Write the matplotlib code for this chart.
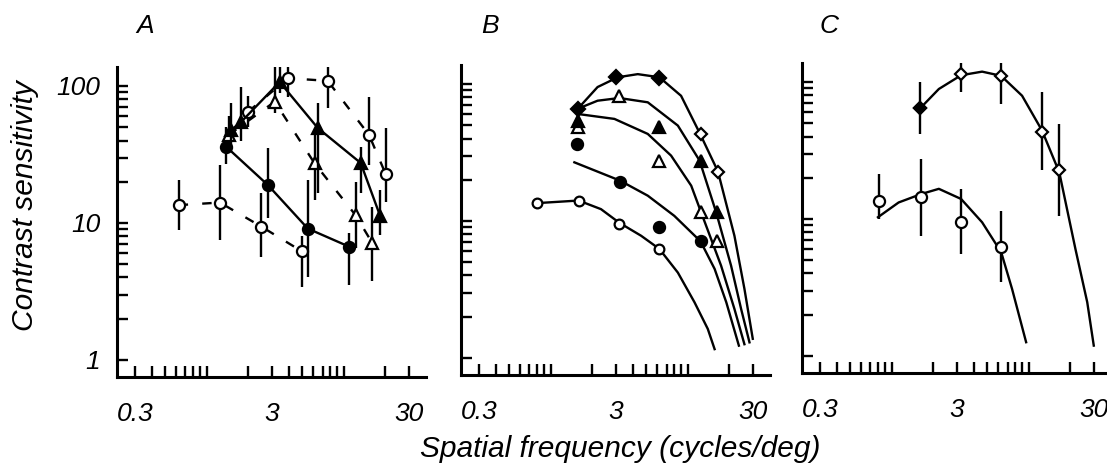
# Curvas de sensibilidad al contraste (tres paneles A, B, C)
import matplotlib
matplotlib.use("Agg")
import matplotlib.pyplot as plt
from matplotlib.ticker import FixedLocator, NullFormatter

# ---- Datos ----
# Panel A: puntos con barras de error (valor, extremo superior, extremo inferior)
a_oc_f = [0.625, 1.25, 2.51, 4.96]          # círculos abiertos, línea discontinua
a_oc_s = [13.5, 14.1, 9.4, 6.2]
a_oc_hi = [20.6, 26.5, 16.6, 8.0]
a_oc_lo = [8.9, 7.5, 5.6, 3.4]

a_fc_f = [1.39, 2.8, 5.47, 11.0]            # círculos llenos, línea continua
a_fc_s = [36, 18.9, 9.1, 6.7]
a_fc_hi = [50, 35.3, 20.6, 8.5]
a_fc_lo = [27, 10.9, 4.0, 3.5]

a_ft_f = [1.51, 1.79, 3.41, 6.46, 13.3, 18.4]   # triángulos llenos, línea continua
a_ft_s = [47.7, 54.8, 107, 49.4, 27.4, 11.3]
a_ft_hi = [75, 98, 150, 75, 36, 17.4]
a_ft_lo = [36, 40, 89, 16.6, 16.6, 8.2]

a_ot_f = [1.45, 3.14, 6.12, 12.2, 16.2]     # triángulos abiertos, discontinua
a_ot_s = [44, 76.8, 27.3, 11.4, 7.1]
a_ot_hi = [60, 147, 47.7, 19.9, 13.1]
a_ot_lo = [36, 63, 14.7, 6.6, 3.8]

a_od_f = [2.01, 3.92, 7.64, 15.3, 20.2]     # círculos abiertos superiores, discontinua
a_od_s = [64.9, 114, 109, 43.9, 22.8]
a_od_hi = [85, 160, 174, 83, 49]
a_od_lo = [50, 83, 69, 26.5, 14.3]

# Panel B: puntos
b_oc_f = [0.795, 1.60, 3.17, 6.21]
b_oc_s = [13.5, 14.1, 9.5, 6.25]
b_fc_f = [1.55, 3.21, 6.21, 12.4]
b_fc_s = [36.5, 19.4, 9.1, 7.1]
b_ot_f = [1.58, 3.17, 6.21, 12.4, 16.3]
b_ot_s = [48.3, 82.2, 27.6, 11.6, 7.1]
b_ft_f = [1.58, 6.21, 12.4, 16.3]
b_ft_s = [54, 48.3, 27.6, 11.6]
b_fd_f = [1.58, 3.02, 6.21]
b_fd_s = [65.8, 112, 110]
b_od_f = [12.4, 16.6]
b_od_s = [43.2, 22.9]

# Panel B: curvas ajustadas (puntos leídos a lo largo de cada curva)
b_c1_f = [1.58, 2.2, 3.09, 4.32, 6.21, 8.94, 12.2, 16.6, 21.9, 25.9, 29.8]
b_c1_s = [66, 95, 112, 118, 112, 82, 44, 23, 7.8, 3.2, 1.38]
b_c2_f = [1.58, 2.2, 3.17, 5.11, 8.47, 12.2, 16.1, 20.7, 24.5, 28.2]
b_c2_s = [66, 75.5, 79, 73.5, 49.7, 27.6, 11.6, 4.72, 2.28, 1.30]
b_c3_f = [1.58, 2.92, 5.11, 7.56, 10.6, 12.5, 17.5, 21.9, 25.9]
b_c3_s = [60.4, 55.6, 43.2, 30.0, 18.1, 11.6, 4.72, 2.28, 1.26]
b_c4_f = [1.49, 3.21, 5.11, 7.98, 12.4, 15.7, 19.1, 23.6]
b_c4_s = [26.8, 19.7, 15.3, 10.9, 7.1, 4.47, 2.55, 1.23]
b_c5_f = [0.795, 1.60, 2.33, 3.17, 4.57, 6.21, 8.47, 11.2, 14.0, 15.7]
b_c5_s = [13.5, 14.1, 12.2, 9.7, 7.8, 6.25, 4.2, 2.55, 1.63, 1.16]

# Panel C: puntos con barras de error y curvas
c_up_f = [1.62, 3.21, 6.28, 12.5, 16.7]
c_up_s = [64.3, 114, 110, 43.4, 22.6]
c_up_hi = [99.5, 160, 174, 84.1, 49.4]
c_up_lo = [41.7, 84.1, 69.1, 22.6, 10.6]
c_lo_f = [0.813, 1.64, 3.21, 6.30]
c_lo_s = [13.6, 14.4, 9.55, 6.21]
c_lo_hi = [21.3, 27.4, 16.6, 11.5]
c_lo_lo = [10.0, 7.55, 5.56, 3.45]

c_c1_f = [1.58, 2.21, 3.21, 4.57, 6.28, 8.94, 12.5, 16.7, 21.9, 26.7, 29.8]
c_c1_s = [62.8, 88.9, 112, 119, 111, 79.4, 44.2, 21.9, 6.04, 2.47, 1.19]
c_c2_f = [0.795, 1.125, 1.64, 2.21, 3.21, 4.57, 6.30, 7.56, 9.57]
c_c2_s = [10.3, 13.2, 15.2, 16.6, 14.0, 9.46, 5.71, 3.08, 1.26]

# Ejes
x_major = [0.3, 3, 30]
x_labels = ["0.3", "3", "30"]
x_minor = [0.4, 0.5, 0.6, 0.7, 0.8, 0.9, 1, 2, 4, 5, 6, 7, 8, 9, 10, 20]
y_major = [1, 10, 100]
y_labels = ["1", "10", "100"]
y_minor = [2, 3, 4, 5, 6, 7, 8, 9, 20, 30, 40, 50, 60, 70, 80, 90]

plt.rcParams["font.family"] = ["Liberation Sans", "DejaVu Sans"]
plt.rcParams["font.style"] = "italic"

W, H = 1107, 471
DASH = (0, (4, 6))
LW = 1.7


def eje(fig, left_px, bottom_px, show_y):
    ax = fig.add_axes([left_px / W, (H - bottom_px) / H, 309 / W, 310 / H])
    ax.set_xscale("log")
    ax.set_yscale("log")
    ax.set_xlim(0.222, 39.8)
    ax.set_ylim(0.751, 137.6)
    for lado in ["top", "right"]:
        ax.spines[lado].set_visible(False)
    for lado in ["left", "bottom"]:
        ax.spines[lado].set_linewidth(2.2)
    ax.xaxis.set_major_locator(FixedLocator(x_major))
    ax.xaxis.set_minor_locator(FixedLocator(x_minor))
    ax.set_xticklabels(x_labels)
    ax.xaxis.set_minor_formatter(NullFormatter())
    ax.yaxis.set_major_locator(FixedLocator(y_major))
    ax.yaxis.set_minor_locator(FixedLocator(y_minor))
    ax.yaxis.set_minor_formatter(NullFormatter())
    if show_y:
        ax.set_yticklabels(y_labels)
    else:
        ax.set_yticklabels([])
    ax.tick_params(which="both", direction="in", length=8, width=1.7, labelsize=19)
    ax.tick_params(axis="x", which="both", pad=18)
    ax.tick_params(axis="y", which="both", pad=12)
    return ax


def con_barras(ax, f, s, hi, lo, marker, relleno, estilo, ms=8):
    err = [[v - l for v, l in zip(s, lo)], [h - v for v, h in zip(s, hi)]]
    ax.errorbar(f, s, yerr=err, fmt="none", ecolor="black", elinewidth=LW, capsize=0)
    ax.plot(f, s, color="black", linestyle=estilo, linewidth=LW, marker=marker,
            markersize=ms, markeredgewidth=1.6, markeredgecolor="black",
            markerfacecolor=relleno)


def puntos(ax, f, s, marker, relleno, ms=8):
    ax.plot(f, s, linestyle="none", marker=marker, markersize=ms, markeredgewidth=1.6,
            markeredgecolor="black", markerfacecolor=relleno)


fig = plt.figure(figsize=(W / 100, H / 100), dpi=100)

# ---- Panel A ----
axA = eje(fig, 117, 377, True)
con_barras(axA, a_oc_f, a_oc_s, a_oc_hi, a_oc_lo, "o", "white", DASH)
con_barras(axA, a_fc_f, a_fc_s, a_fc_hi, a_fc_lo, "o", "black", "-")
con_barras(axA, a_ot_f, a_ot_s, a_ot_hi, a_ot_lo, "^", "white", DASH)
con_barras(axA, a_od_f, a_od_s, a_od_hi, a_od_lo, "o", "white", DASH)
con_barras(axA, a_ft_f, a_ft_s, a_ft_hi, a_ft_lo, "^", "black", "-")

# ---- Panel B ----
axB = eje(fig, 461, 375, False)
for cf, cs in [(b_c1_f, b_c1_s), (b_c2_f, b_c2_s), (b_c3_f, b_c3_s),
               (b_c4_f, b_c4_s), (b_c5_f, b_c5_s)]:
    axB.plot(cf, cs, color="black", linewidth=LW)
puntos(axB, b_oc_f, b_oc_s, "o", "white", 7)
puntos(axB, b_fc_f, b_fc_s, "o", "black", 8)
puntos(axB, b_ot_f, b_ot_s, "^", "white", 8)
puntos(axB, b_ft_f, b_ft_s, "^", "black", 8)
puntos(axB, b_fd_f, b_fd_s, "D", "black", 7)
puntos(axB, b_od_f, b_od_s, "D", "white", 6)

# ---- Panel C ----
axC = eje(fig, 802, 373, False)
axC.plot(c_c1_f, c_c1_s, color="black", linewidth=LW)
axC.plot(c_c2_f, c_c2_s, color="black", linewidth=LW)
con_barras(axC, c_up_f, c_up_s, c_up_hi, c_up_lo, "D", "white", "none", 6)
puntos(axC, c_up_f[:1], c_up_s[:1], "D", "black", 6)   # primer punto relleno
con_barras(axC, c_lo_f, c_lo_s, c_lo_hi, c_lo_lo, "o", "white", "none", 8)

# Letras de panel y títulos de ejes
for letra, xp in [("A", 145), ("B", 490), ("C", 829)]:
    fig.text(xp / W, 1 - 26 / H, letra, fontsize=19, ha="center", va="center")
fig.text(25 / W, 1 - 206 / H, "Contrast sensitivity", fontsize=21.5,
         rotation=90, ha="center", va="center")
fig.text(620 / W, 1 - 457 / H, "Spatial frequency (cycles/deg)", fontsize=21.5,
         ha="center", va="baseline")

fig.savefig("out.png", dpi=100)
